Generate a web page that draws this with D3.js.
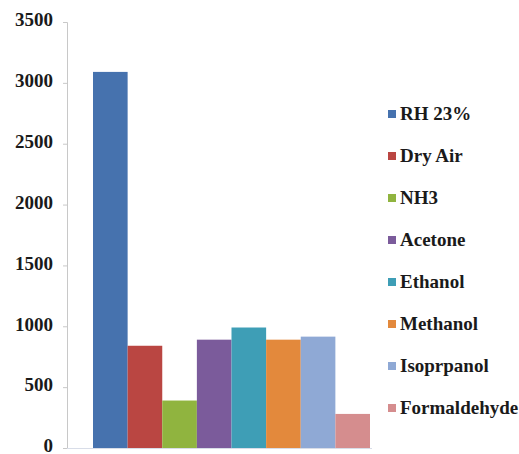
<!DOCTYPE html>
<html><head><meta charset="utf-8">
<script src="https://cdn.jsdelivr.net/npm/d3@7/dist/d3.min.js"></script>
<style>
body{margin:0;background:#fff;font-family:"Liberation Serif",serif}
svg{display:block;font-family:"Liberation Serif",serif}
svg text{font-family:"Liberation Serif",serif !important;font-weight:bold;font-size:19px;fill:#1a1a1a}
</style>
</head><body>
<svg id="c" width="519" height="454" font-family="Liberation Serif"></svg>
<script>
const series = ["RH 23%","Dry Air","NH3","Acetone","Ethanol","Methanol","Isoprpanol","Formaldehyde"];
const values = [3090, 840, 390, 890, 990, 890, 915, 280];
const colors = ["#4672AE","#BA4642","#90B43F","#7B5B9B","#3E9EB6","#E3893C","#8FA9D5","#D58D8E"];
const yTicks = [0,500,1000,1500,2000,2500,3000,3500];

const svg = d3.select("#c");
const x = d3.scaleBand().domain(series).range([93, 370]).padding(0);
const y = d3.scaleLinear().domain([0, 3500]).range([448, 22]);

// y axis
const ax = svg.append("g").attr("transform","translate(67,0)")
  .call(d3.axisLeft(y).tickValues(yTicks).tickSize(4).tickPadding(10).tickFormat(d3.format("d")));
ax.attr("font-family", null).attr("font-size", null);
ax.select(".domain").attr("stroke","#c8c8c8");
ax.selectAll(".tick line").attr("stroke","#c8c8c8");
ax.selectAll("text").attr("dy","0.2em").attr("fill", null);

// baseline
svg.append("line").attr("x1",67).attr("x2",x.range()[1]+2)
  .attr("y1",y(0)+0.5).attr("y2",y(0)+0.5).attr("stroke","#d8dde8");

// bars
svg.append("g").selectAll("rect").data(series).join("rect")
  .attr("x", d => x(d)).attr("width", x.bandwidth())
  .attr("y", (d,i) => y(values[i])).attr("height", (d,i) => y(0) - y(values[i]))
  .attr("fill", (d,i) => colors[i]);

// legend
const lg = svg.append("g").selectAll("g").data(series).join("g")
  .attr("transform", (d,i) => `translate(388,${114 + i*42})`);
lg.append("rect").attr("x",0).attr("y",-4).attr("width",8).attr("height",8)
  .attr("fill",(d,i)=>colors[i]);
lg.append("text").attr("x",12).attr("y",6).text(d=>d);
</script>
</body></html>
